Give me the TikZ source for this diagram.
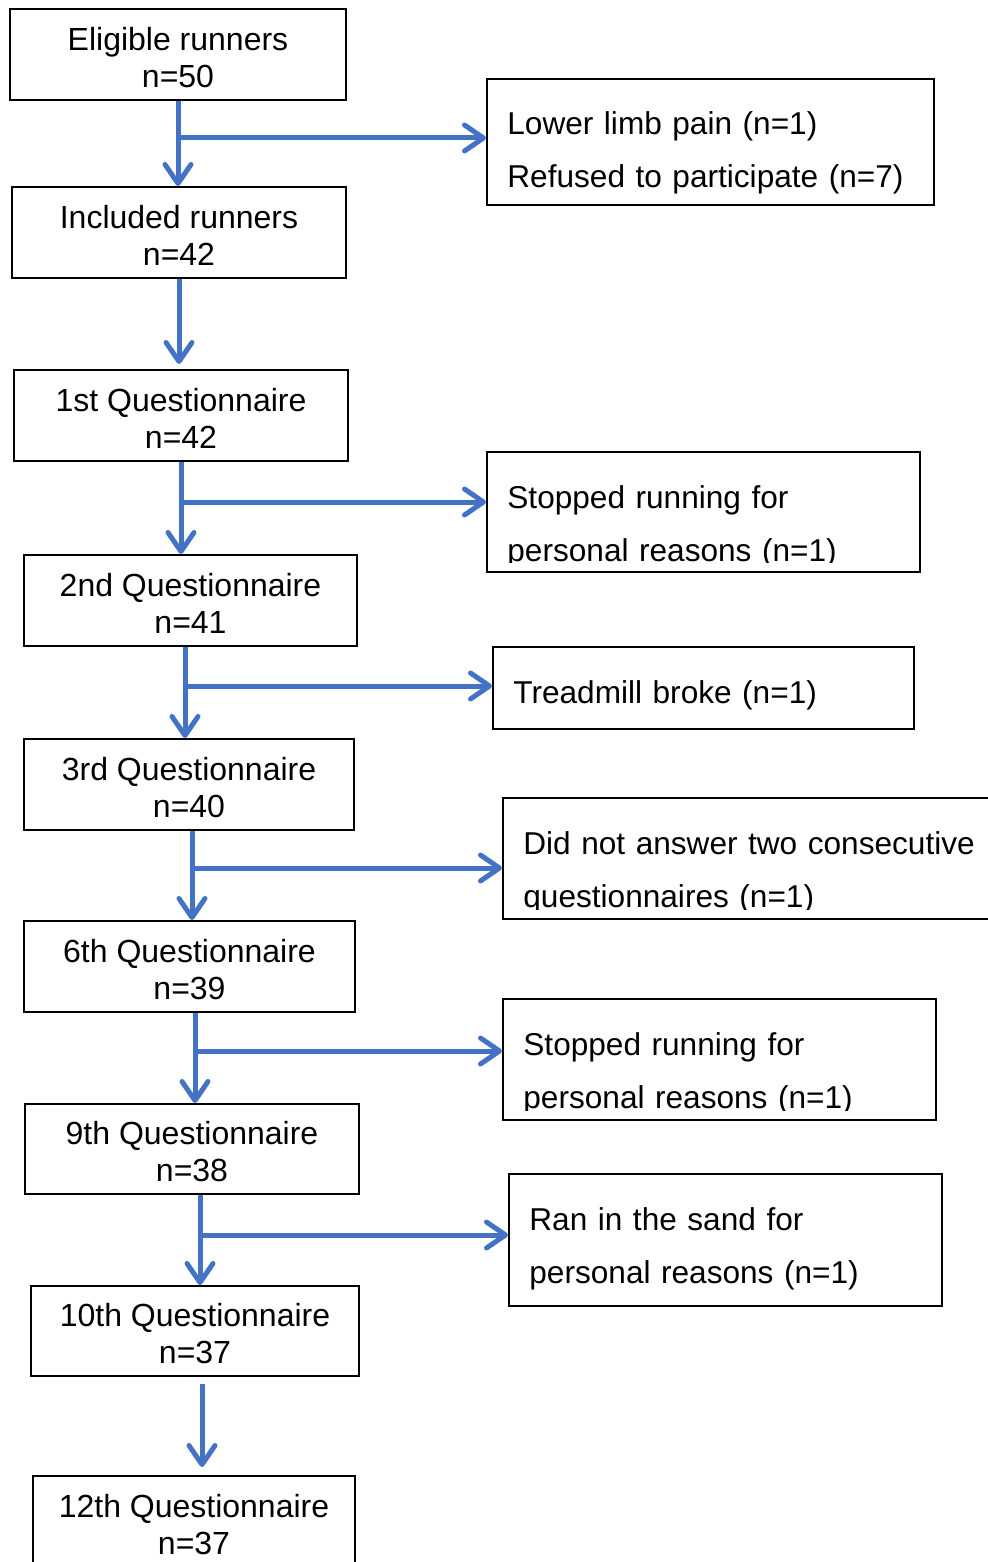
\documentclass[tikz,border=0pt]{standalone}
\usepackage{fontspec}
\setmainfont{Liberation Sans}
\usepackage{tikz}
\usetikzlibrary{arrows.meta}
\definecolor{flowblue}{HTML}{4472C4}
\tikzset{
  stage/.style={draw=black, line width=1pt, minimum height=45.5pt, inner sep=0pt,
    align=center, font=\fontsize{16}{18.5}\selectfont,
    execute at begin node=\rule{0pt}{33.1pt}},
  reason/.style={draw=black, line width=1pt, anchor=north west, inner sep=0pt},
  why/.style={anchor=base west, inner sep=0pt, text width=235pt, align=left,
    font=\fontsize{15.8}{26.5}\selectfont},
  flow/.style={draw=flowblue, line width=2.5pt,
    -{Straight Barb[length=9.5pt,width=13pt,line cap=round,line join=round]}},
}
% text of a drop-out box, cut #1 above its lower edge
\newcommand{\dropnote}[3][0pt]{%
  \begin{scope}
    \clip (#2.north west) rectangle ([yshift=#1]#2.south east);
    \node[why] (#2-txt) at ([shift={(10.5pt,-28.5pt)}]#2.north west) {#3};
  \end{scope}}

\begin{document}
\begin{tikzpicture}[x=0.5pt,y=-0.5pt]
  \useasboundingbox (0,0) rectangle (987,1562);

  % main stages
  \node[stage, minimum width=168pt] (elig) at (178,54.5) {Eligible runners\\n=50};
  \node[stage, minimum width=167pt] (incl) at (179,232.5) {Included runners\\n=42};
  \node[stage, minimum width=167pt] (q1) at (181,415.5) {1st Questionnaire\\n=42};
  \node[stage, minimum width=166.5pt] (q2) at (190.5,600.5) {2nd Questionnaire\\n=41};
  \node[stage, minimum width=165pt] (q3) at (189,784.5) {3rd Questionnaire\\n=40};
  \node[stage, minimum width=165.5pt] (q6) at (189.5,966.5) {6th Questionnaire\\n=39};
  \node[stage, minimum width=167pt, minimum height=45pt] (q9) at (192,1149) {9th Questionnaire\\n=38};
  \node[stage, minimum width=164pt, minimum height=45pt] (q10) at (195,1331) {10th Questionnaire\\n=37};
  \node[stage, minimum width=161pt] (q12) at (194,1521.5) {12th Questionnaire\\n=37};

  % drop-outs
  \node[reason, minimum width=223.5pt, minimum height=63pt] (pain) at (486,78) {};
  \node[reason, minimum width=216.5pt, minimum height=60pt] (stop1) at (486,451) {};
  \node[reason, minimum width=210.5pt, minimum height=41pt] (tread) at (492,646) {};
  \node[reason, minimum width=250pt, minimum height=60.5pt] (noans) at (502,797) {};
  \node[reason, minimum width=216.5pt, minimum height=60.5pt] (stop2) at (502,998) {};
  \node[reason, minimum width=216.5pt, minimum height=66pt] (sand) at (508,1173) {};

  \dropnote{pain}{Lower limb pain (n=1)\\Refused to participate (n=7)}
  \dropnote[5.5pt]{stop1}{Stopped running for\\personal reasons (n=1)}
  \dropnote{tread}{Treadmill broke (n=1)}
  \dropnote[5.5pt]{noans}{Did not answer two consecutive\\questionnaires (n=1)}
  \dropnote[5.5pt]{stop2}{Stopped running for\\personal reasons (n=1)}
  \dropnote{sand}{Ran in the sand for\\personal reasons (n=1)}

  % branch points
  \coordinate (b1) at (elig.south |- 0,138);
  \coordinate (b2) at (q1.south |- 0,502);
  \coordinate (b3) at ([xshift=-2.75pt]q2.south |- 0,686);
  \coordinate (b4) at ([xshift=1.5pt]q3.south |- 0,868);
  \coordinate (b5) at ([xshift=2.75pt]q6.south |- 0,1051);
  \coordinate (b6) at ([xshift=4pt]q9.south |- 0,1235);

  \draw[flow] (elig.south) -- (elig.south |- incl.north);
  \draw[flow, shorten >=2.5pt] (incl.south) -- (incl.south |- q1.north);
  \draw[flow] (q1.south) -- (q1.south |- q2.north);
  \draw[flow] ([xshift=-2.75pt]q2.south) -- ([xshift=-2.75pt]q2.south |- q3.north);
  \draw[flow] ([xshift=1.5pt]q3.south) -- ([xshift=1.5pt]q3.south |- q6.north);
  \draw[flow] ([xshift=2.75pt]q6.south) -- ([xshift=2.75pt]q6.south |- q9.north);
  \draw[flow] ([xshift=4pt]q9.south) -- ([xshift=4pt]q9.south |- q10.north);
  \draw[flow, shorten <=3.5pt, shorten >=4pt] ([xshift=3.5pt]q10.south) -- ([xshift=3.5pt]q10.south |- q12.north);

  \draw[flow] (b1) -- (b1 -| pain.west);
  \draw[flow] (b2) -- (b2 -| stop1.west);
  \draw[flow] (b3) -- (b3 -| tread.west);
  \draw[flow] (b4) -- (b4 -| noans.west);
  \draw[flow] (b5) -- (b5 -| stop2.west);
  \draw[flow] (b6) -- (b6 -| sand.west);
\end{tikzpicture}
\end{document}
